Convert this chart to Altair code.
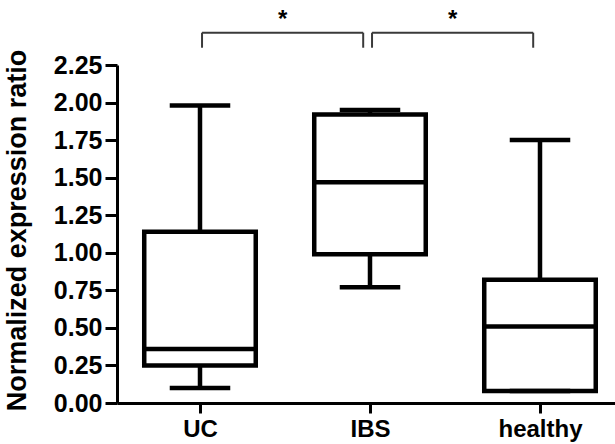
import altair as alt
import pandas as pd

groups = ["UC", "IBS", "healthy"]
mins = [0.10, 0.77, 0.08]
q1s = [0.25, 0.99, 0.08]
medians = [0.36, 1.47, 0.51]
q3s = [1.14, 1.92, 0.82]
maxs = [1.98, 1.95, 1.75]

comp_from = [0, 1]
comp_to = [1, 2]
comp_labels = ["*", "*"]

y_ticks = [0, 0.25, 0.5, 0.75, 1.0, 1.25, 1.5, 1.75, 2.0, 2.25]

df = pd.DataFrame({
    "group": groups,
    "pos": list(range(len(groups))),
    "lo": mins, "q1": q1s, "med": medians, "q3": q3s, "hi": maxs,
})
comp = pd.DataFrame({"a": comp_from, "b": comp_to, "label": comp_labels})

FONT = "Liberation Sans"
BOX_HALF = 0.328
CAP_HALF = 0.178
LW = 4.5

label_expr = ""
for i, g in enumerate(groups[:-1]):
    label_expr += f"datum.value == {i} ? '{g}' : "
label_expr += f"'{groups[-1]}'"

xscale = alt.Scale(domain=[-0.4882, 2.4412], nice=False, zero=False)
yscale = alt.Scale(domain=[0, 2.25], nice=False, zero=True)

xaxis = alt.Axis(
    values=list(range(len(groups))), labelExpr=label_expr, title=None,
    grid=False, domainColor="black", domainWidth=3, tickColor="black",
    tickWidth=3, tickSize=10, labelFont=FONT, labelFontSize=24,
    labelFontWeight="bold", labelColor="black", labelPadding=4,
)
yaxis = alt.Axis(
    values=y_ticks, format=".2f", title="Normalized expression ratio",
    grid=False, domainColor="black", domainWidth=3, tickColor="black",
    tickWidth=3, tickSize=12, labelFont=FONT, labelFontSize=25,
    labelFontWeight="bold", labelColor="black", labelPadding=3,
    titleFont=FONT, titleFontSize=27, titleFontWeight="bold",
    titleColor="black", titleAngle=-90, titleX=-92, titleY=165,
    titleAlign="center", titleBaseline="alphabetic",
)


def X(field):
    return alt.X(field, scale=xscale, axis=xaxis)


def Y(field):
    return alt.Y(field, scale=yscale, axis=yaxis)


base = alt.Chart(df).transform_calculate(
    xl=f"datum.pos - {BOX_HALF}", xr=f"datum.pos + {BOX_HALF}",
    cl=f"datum.pos - {CAP_HALF}", cr=f"datum.pos + {CAP_HALF}",
)

whisk_up = base.mark_rule(color="black", strokeWidth=LW).encode(
    x=X("pos:Q"), y=Y("q3:Q"), y2="hi:Q")
whisk_dn = base.mark_rule(color="black", strokeWidth=LW).encode(
    x=X("pos:Q"), y=Y("lo:Q"), y2="q1:Q")
box = base.mark_rect(fill="white", stroke="black", strokeWidth=LW).encode(
    x=X("xl:Q"), x2="xr:Q", y=Y("q1:Q"), y2="q3:Q")
median = base.mark_rule(color="black", strokeWidth=LW).encode(
    x=X("xl:Q"), x2="xr:Q", y=Y("med:Q"))
cap_up = base.mark_rule(color="black", strokeWidth=LW).encode(
    x=X("cl:Q"), x2="cr:Q", y=Y("hi:Q"))
cap_dn = base.mark_rule(color="black", strokeWidth=LW).encode(
    x=X("cl:Q"), x2="cr:Q", y=Y("lo:Q"))

cbase = alt.Chart(comp).transform_calculate(
    x1="datum.a + 0.012", x2="datum.b - 0.04",
    xm="(datum.a + 0.012 + datum.b - 0.04) / 2",
    ytop="2.465", ybot="2.365", ytxt="2.503",
)
br_top = cbase.mark_rule(color="#3a3a3a", strokeWidth=2).encode(
    x=X("x1:Q"), x2="x2:Q", y=Y("ytop:Q"))
br_l = cbase.mark_rule(color="#3a3a3a", strokeWidth=2).encode(
    x=X("x1:Q"), y=Y("ybot:Q"), y2="ytop:Q")
br_r = cbase.mark_rule(color="#3a3a3a", strokeWidth=2).encode(
    x=X("x2:Q"), y=Y("ybot:Q"), y2="ytop:Q")
stars = cbase.mark_text(font=FONT, fontSize=24, fontWeight="bold",
                        color="black", align="center",
                        baseline="alphabetic").encode(
    x=X("xm:Q"), y=Y("ytxt:Q"), text="label:N")

chart = alt.layer(
    box, whisk_up, whisk_dn, median, cap_up, cap_dn,
    br_top, br_l, br_r, stars,
).properties(
    width=498, height=338,
    autosize=alt.AutoSizeParams(type="none"),
    padding={"left": 117, "top": 65, "right": 0, "bottom": 41},
    background="white",
).configure_view(stroke=None)

chart.save("out.html", embed_options={"renderer": "svg", "actions": False})
